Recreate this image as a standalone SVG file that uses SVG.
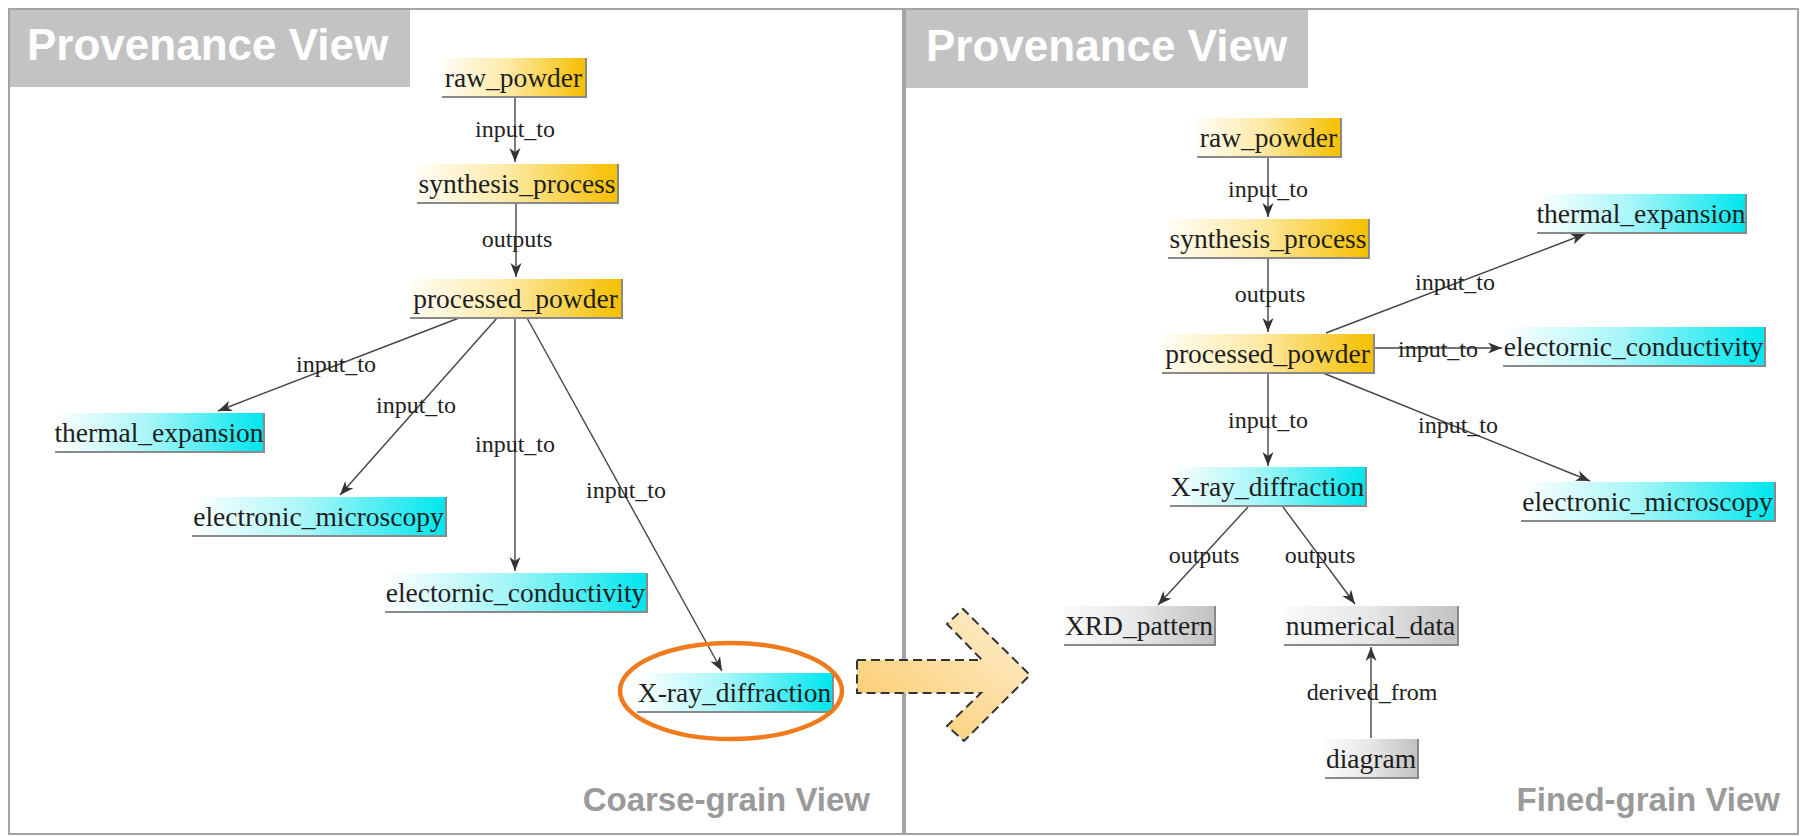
<svg xmlns="http://www.w3.org/2000/svg" width="1802" height="836" viewBox="0 0 1802 836">
  <defs>
    <linearGradient id="gOrange" x1="0" y1="0" x2="1" y2="0">
      <stop offset="0" stop-color="#fffdf6"/>
      <stop offset="0.45" stop-color="#fdeaa8"/>
      <stop offset="1" stop-color="#f6bf00"/>
    </linearGradient>
    <linearGradient id="gCyan" x1="0" y1="0" x2="1" y2="0">
      <stop offset="0" stop-color="#ffffff"/>
      <stop offset="0.45" stop-color="#a8f6f8"/>
      <stop offset="1" stop-color="#00e6ee"/>
    </linearGradient>
    <linearGradient id="gGray" x1="0" y1="0" x2="1" y2="0">
      <stop offset="0" stop-color="#fbfbfb"/>
      <stop offset="0.5" stop-color="#e6e6e6"/>
      <stop offset="1" stop-color="#c2c2c2"/>
    </linearGradient>
    <linearGradient id="gArrow" x1="0" y1="1" x2="1" y2="0">
      <stop offset="0" stop-color="#fbc862"/>
      <stop offset="0.6" stop-color="#fde0a6"/>
      <stop offset="1" stop-color="#feefd4"/>
    </linearGradient>
    <marker id="head" markerUnits="userSpaceOnUse" markerWidth="16" markerHeight="12" viewBox="0 0 15 12" refX="14" refY="6" orient="auto">
      <path d="M0,0.5 L14,6 L0,11.5 L4,6 z" fill="#333"/>
    </marker>
    <style>
      .panel { fill: #ffffff; stroke: #a4a4a4; stroke-width: 2; }
      .title-bg { fill: #c3c3c3; }
      .title { font-family: "Liberation Sans", Arial, sans-serif; font-weight: bold; font-size: 44px; fill: #ffffff; }
      .caption { font-family: "Liberation Sans", Arial, sans-serif; font-weight: bold; font-size: 33px; fill: #9a9a9a; text-anchor: end; }
      .node-text { font-family: "Liberation Serif", "Times New Roman", serif; font-size: 27.5px; fill: #1e1e1e; text-anchor: middle; }
      .edge-label { font-family: "Liberation Serif", "Times New Roman", serif; font-size: 24px; fill: #222; text-anchor: middle; }
      .edge { stroke: #444; stroke-width: 1.4; fill: none; marker-end: url(#head); }
      .shade { stroke: #8a8a8a; stroke-width: 2; fill: none; }
      .orange { fill: url(#gOrange); }
      .cyan { fill: url(#gCyan); }
      .gray { fill: url(#gGray); }
    </style>
  </defs>

  <rect width="1802" height="836" fill="#ffffff"/>

  <!-- panels -->
  <g id="panel-coarse">
    <rect class="panel" x="9" y="9" width="894" height="825"/>
    <rect class="title-bg" x="10" y="10" width="400" height="77"/>
    <text class="title" x="27" y="60">Provenance View</text>
    <text class="caption" x="870" y="811">Coarse-grain View</text>
  </g>
  <g id="panel-fine">
    <rect class="panel" x="905" y="9" width="893" height="825"/>
    <rect class="title-bg" x="906" y="10" width="402" height="78"/>
    <text class="title" x="926" y="61">Provenance View</text>
    <text class="caption" x="1780" y="811">Fined-grain View</text>
  </g>

  <!-- connectors -->
  <g id="connectors">
    <!-- coarse-grain graph -->
    <line class="edge" x1="515" y1="97" x2="515" y2="162"/>
    <line class="edge" x1="516" y1="203" x2="516" y2="277"/>
    <line class="edge" x1="459" y1="318" x2="218" y2="411"/>
    <line class="edge" x1="497" y1="318" x2="340" y2="495"/>
    <line class="edge" x1="515" y1="318" x2="515" y2="571"/>
    <line class="edge" x1="527" y1="318" x2="722" y2="671"/>
    <!-- fine-grain graph -->
    <line class="edge" x1="1268" y1="158" x2="1268" y2="217"/>
    <line class="edge" x1="1268" y1="258" x2="1268" y2="332"/>
    <line class="edge" x1="1326" y1="333" x2="1585" y2="234"/>
    <line class="edge" x1="1374" y1="348" x2="1502" y2="348"/>
    <line class="edge" x1="1268" y1="373" x2="1268" y2="466"/>
    <line class="edge" x1="1323" y1="373" x2="1590" y2="481"/>
    <line class="edge" x1="1248" y1="507" x2="1158" y2="605"/>
    <line class="edge" x1="1283" y1="507" x2="1355" y2="604"/>
    <line class="edge" x1="1371" y1="738" x2="1371" y2="647"/>

    <text class="edge-label" x="515" y="137">input_to</text>
    <text class="edge-label" x="517" y="247">outputs</text>
    <text class="edge-label" x="336" y="372">input_to</text>
    <text class="edge-label" x="416" y="413">input_to</text>
    <text class="edge-label" x="515" y="452">input_to</text>
    <text class="edge-label" x="626" y="498">input_to</text>

    <text class="edge-label" x="1268" y="197">input_to</text>
    <text class="edge-label" x="1270" y="302">outputs</text>
    <text class="edge-label" x="1455" y="290">input_to</text>
    <text class="edge-label" x="1438" y="357">input_to</text>
    <text class="edge-label" x="1268" y="428">input_to</text>
    <text class="edge-label" x="1458" y="433">input_to</text>
    <text class="edge-label" x="1204" y="563">outputs</text>
    <text class="edge-label" x="1320" y="563">outputs</text>
    <text class="edge-label" x="1372" y="700">derived_from</text>
  </g>

  <!-- coarse-grain nodes -->
  <g id="c-raw_powder">
    <rect class="orange" x="442" y="58" width="143" height="38"/>
    <polyline class="shade" points="442,97 586,97 586,58"/>
    <text class="node-text" x="513.5" y="87">raw_powder</text>
  </g>
  <g id="c-synthesis_process">
    <rect class="orange" x="417" y="164" width="200" height="38"/>
    <polyline class="shade" points="417,203 618,203 618,164"/>
    <text class="node-text" x="517" y="193">synthesis_process</text>
  </g>
  <g id="c-processed_powder">
    <rect class="orange" x="410" y="279" width="211" height="38"/>
    <polyline class="shade" points="410,318 622,318 622,279"/>
    <text class="node-text" x="515.5" y="308">processed_powder</text>
  </g>
  <g id="c-thermal_expansion">
    <rect class="cyan" x="55" y="413" width="208" height="38"/>
    <polyline class="shade" points="55,452 264,452 264,413"/>
    <text class="node-text" x="159" y="442">thermal_expansion</text>
  </g>
  <g id="c-electronic_microscopy">
    <rect class="cyan" x="192" y="497" width="253" height="38"/>
    <polyline class="shade" points="192,536 446,536 446,497"/>
    <text class="node-text" x="318.5" y="526">electronic_microscopy</text>
  </g>
  <g id="c-electornic_conductivity">
    <rect class="cyan" x="385" y="573" width="261" height="38"/>
    <polyline class="shade" points="385,612 647,612 647,573"/>
    <text class="node-text" x="515.5" y="602">electornic_conductivity</text>
  </g>
  <g id="c-X-ray_diffraction">
    <rect class="cyan" x="637" y="673" width="195" height="38"/>
    <polyline class="shade" points="637,712 833,712 833,673"/>
    <text class="node-text" x="734.5" y="702">X-ray_diffraction</text>
    <ellipse cx="731" cy="691" rx="111" ry="48" fill="none" stroke="#f07a1c" stroke-width="4.5"/>
  </g>

  <!-- transition arrow between the two views -->
  <g id="transition-arrow">
    <polygon points="857,660 982,660 947,624 963,609 1030,675 964,741 947,726 981,693 857,693" fill="url(#gArrow)" stroke="#333" stroke-width="2" stroke-dasharray="9 5"/>
  </g>

  <!-- fine-grain nodes -->
  <g id="f-raw_powder">
    <rect class="orange" x="1197" y="118" width="143" height="38"/>
    <polyline class="shade" points="1197,157 1341,157 1341,118"/>
    <text class="node-text" x="1268.5" y="147">raw_powder</text>
  </g>
  <g id="f-synthesis_process">
    <rect class="orange" x="1168" y="219" width="200" height="38"/>
    <polyline class="shade" points="1168,258 1369,258 1369,219"/>
    <text class="node-text" x="1268" y="248">synthesis_process</text>
  </g>
  <g id="f-processed_powder">
    <rect class="orange" x="1162" y="334" width="211" height="38"/>
    <polyline class="shade" points="1162,373 1374,373 1374,334"/>
    <text class="node-text" x="1267.5" y="363">processed_powder</text>
  </g>
  <g id="f-thermal_expansion">
    <rect class="cyan" x="1537" y="194" width="208" height="38"/>
    <polyline class="shade" points="1537,233 1746,233 1746,194"/>
    <text class="node-text" x="1641" y="223">thermal_expansion</text>
  </g>
  <g id="f-electornic_conductivity">
    <rect class="cyan" x="1503" y="327" width="261" height="38"/>
    <polyline class="shade" points="1503,366 1765,366 1765,327"/>
    <text class="node-text" x="1633.5" y="356">electornic_conductivity</text>
  </g>
  <g id="f-X-ray_diffraction">
    <rect class="cyan" x="1170" y="467" width="195" height="38"/>
    <polyline class="shade" points="1170,506 1366,506 1366,467"/>
    <text class="node-text" x="1267.5" y="496">X-ray_diffraction</text>
  </g>
  <g id="f-electronic_microscopy">
    <rect class="cyan" x="1521" y="482" width="253" height="38"/>
    <polyline class="shade" points="1521,521 1775,521 1775,482"/>
    <text class="node-text" x="1647.5" y="511">electronic_microscopy</text>
  </g>
  <g id="f-XRD_pattern">
    <rect class="gray" x="1064" y="606" width="150" height="38"/>
    <polyline class="shade" points="1064,645 1215,645 1215,606"/>
    <text class="node-text" x="1139" y="635">XRD_pattern</text>
  </g>
  <g id="f-numerical_data">
    <rect class="gray" x="1284" y="606" width="173" height="38"/>
    <polyline class="shade" points="1284,645 1458,645 1458,606"/>
    <text class="node-text" x="1370.5" y="635">numerical_data</text>
  </g>
  <g id="f-diagram">
    <rect class="gray" x="1325" y="739" width="92" height="38"/>
    <polyline class="shade" points="1325,778 1418,778 1418,739"/>
    <text class="node-text" x="1371" y="768">diagram</text>
  </g>
</svg>
